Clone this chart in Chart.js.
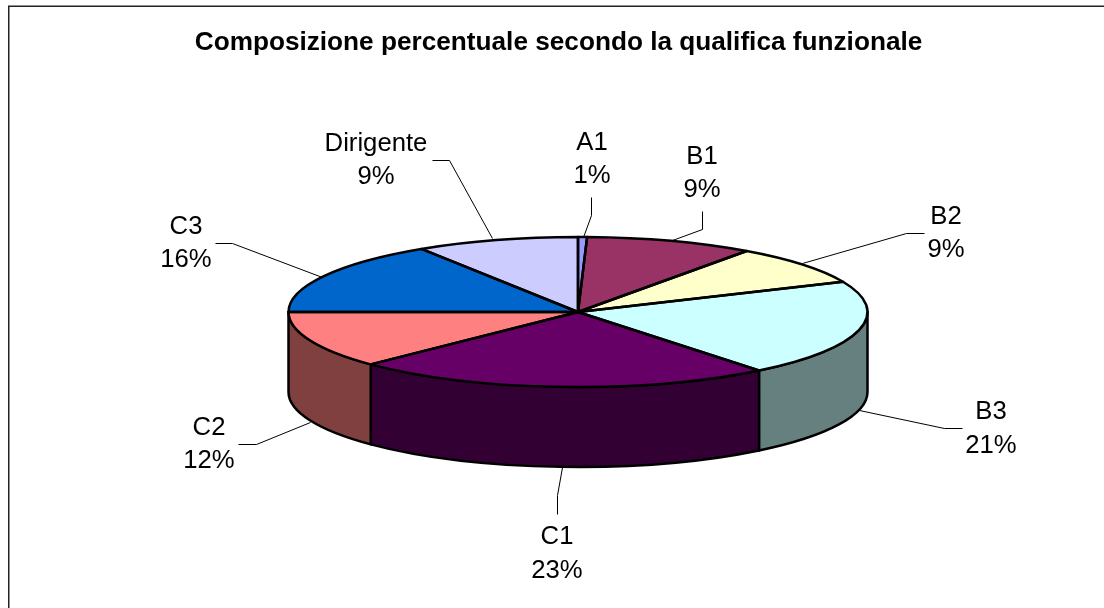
<!DOCTYPE html>
<html>
<head>
<meta charset="utf-8">
<style>
  html, body { margin: 0; padding: 0; background: #fff; overflow: hidden; }
  canvas { display: block; }
</style>
<script src="https://cdn.jsdelivr.net/npm/chart.js@4"></script>
</head>
<body>
<canvas id="chart" width="1104" height="608"></canvas>
<script>
const title = "Composizione percentuale secondo la qualifica funzionale";
const categories = ["A1", "B1", "B2", "B3", "C1", "C2", "C3", "Dirigente"];
const shares = [0.5, 9.4, 8.5, 20.85, 23.45, 12.3, 15.9, 9.1];
const topColors = ["#9999FF", "#993366", "#FFFFCC", "#CCFFFF", "#660066", "#FF8080", "#0066CC", "#CCCCFF"];
const sideColors = ["#4D4D80", "#4D1A33", "#808066", "#668080", "#330033", "#804040", "#003366", "#666680"];

// label centre x, baselines of the two lines
const labelSpots = [
  [592, 150, 183], [702, 164, 197], [946, 224, 257], [991, 419, 453],
  [557, 544, 578], [209, 435, 468], [186, 234, 267], [376, 151, 184],
];
const leaders = [
  [[591, 197], [591, 215], [583, 237]],
  [[702, 211], [702, 229], [672, 240]],
  [[924, 233], [906, 233], [802, 263]],
  [[962, 428], [944, 428], [859, 410]],
  [[557, 514], [557, 495], [562, 467]],
  [[238, 444], [256, 444], [310, 422]],
  [[215, 243], [232, 243], [322, 277]],
  [[432, 160], [449, 160], [492, 238]],
];

const radiusX = 289.5;
const radiusY = 75;
const depth = 80;
const squash = radiusY / radiusX;

const tiltPlugin = {
  id: "tilt",
  beforeDatasetsDraw(chart) {
    const ctx = chart.ctx;
    const arcs = chart.getDatasetMeta(0).data;
    const cx = arcs[0].x;
    const cy = arcs[0].y;

    // frame, only left and top fall inside the picture
    ctx.save();
    ctx.strokeStyle = "#222";
    ctx.lineWidth = 1.5;
    ctx.beginPath();
    ctx.moveTo(8.75, 620);
    ctx.lineTo(8.75, 6.25);
    ctx.lineTo(1120, 6.25);
    ctx.stroke();

    // wall of the slices on the near half
    ctx.lineWidth = 2.5;
    ctx.strokeStyle = "#000";
    ctx.lineJoin = "round";
    arcs.forEach((arc, i) => {
      const a = Math.max(arc.startAngle, 0);
      const b = Math.min(arc.endAngle, Math.PI);
      if (b <= a) return;
      ctx.beginPath();
      ctx.ellipse(cx, cy, radiusX, radiusY, 0, a, b);
      ctx.ellipse(cx, cy + depth, radiusX, radiusY, 0, b, a, true);
      ctx.closePath();
      ctx.fillStyle = sideColors[i];
      ctx.fill();
      ctx.stroke();
    });
    ctx.restore();

    // library draws the top face under this squash
    ctx.save();
    ctx.translate(cx, cy);
    ctx.scale(1, squash);
    ctx.translate(-cx, -cy);
  },
  afterDatasetsDraw(chart) {
    const ctx = chart.ctx;
    ctx.restore();

    const arcs = chart.getDatasetMeta(0).data;
    const cx = arcs[0].x;
    const cy = arcs[0].y;

    ctx.save();
    ctx.lineWidth = 2.5;
    ctx.strokeStyle = "#000";
    ctx.lineJoin = "round";
    arcs.forEach((arc) => {
      ctx.beginPath();
      ctx.moveTo(cx, cy);
      ctx.ellipse(cx, cy, radiusX, radiusY, 0, arc.startAngle, arc.endAngle);
      ctx.closePath();
      ctx.stroke();
    });

    ctx.lineWidth = 1;
    leaders.forEach((pts) => {
      ctx.beginPath();
      pts.forEach((p, i) => {
        if (i === 0) ctx.moveTo(p[0] + 0.5, p[1] + 0.5);
        else ctx.lineTo(p[0] + 0.5, p[1] + 0.5);
      });
      ctx.stroke();
    });

    ctx.fillStyle = "#000";
    ctx.textAlign = "center";
    ctx.textBaseline = "alphabetic";
    ctx.font = "25.7px 'Liberation Sans'";
    categories.forEach((name, i) => {
      const spot = labelSpots[i];
      ctx.fillText(name, spot[0], spot[1]);
      ctx.fillText(Math.round(shares[i]) + "%", spot[0], spot[2]);
    });

    ctx.font = "bold 26.2px 'Liberation Sans'";
    ctx.fillText(title, 558.5, 50);
    ctx.restore();
  },
};

new Chart(document.querySelector("#chart").getContext("2d"), {
  type: "pie",
  data: {
    labels: categories,
    datasets: [
      {
        data: shares,
        backgroundColor: topColors,
        borderWidth: 0,
        clip: false,
      },
    ],
  },
  options: {
    responsive: false,
    animation: false,
    radius: radiusX,
    layout: { padding: { left: 52, top: 16 } },
    plugins: {
      legend: { display: false },
      title: { display: false },
      tooltip: { enabled: false },
    },
  },
  plugins: [tiltPlugin],
});
</script>
</body>
</html>
